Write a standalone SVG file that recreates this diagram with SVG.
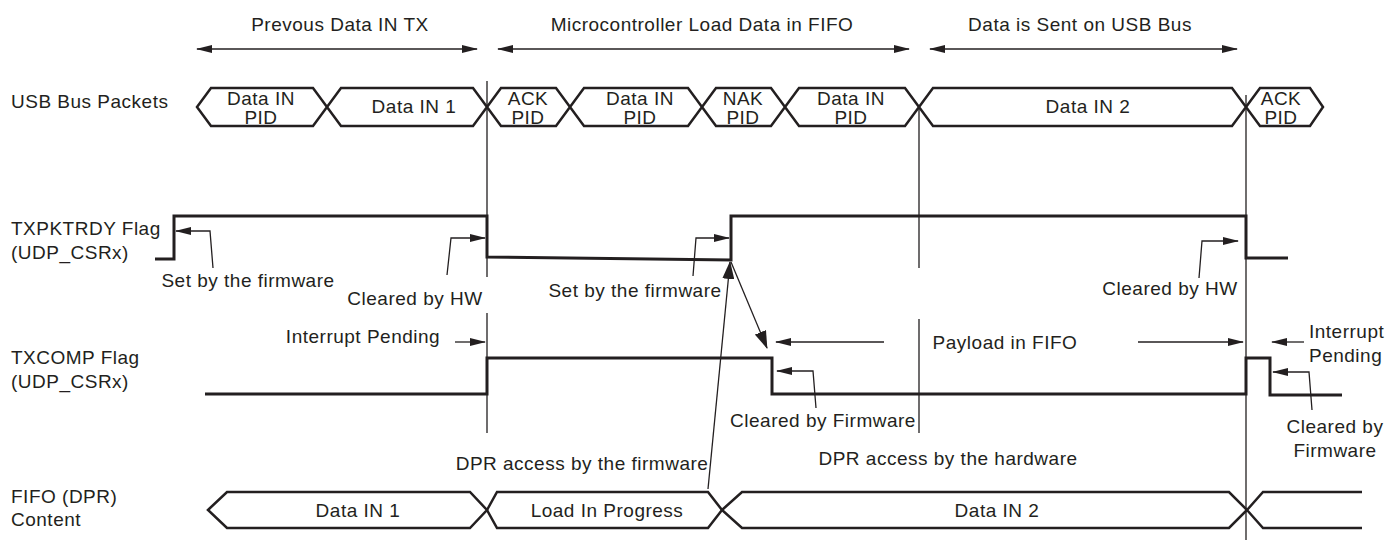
<svg xmlns="http://www.w3.org/2000/svg" width="1385" height="540" viewBox="0 0 1385 540">
<style>
.t{font-family:"Liberation Sans",Arial,Helvetica,sans-serif;font-size:19px;letter-spacing:0.5px;fill:#231f20}
.m{text-anchor:middle}
.w{fill:none;stroke:#231f20;stroke-width:3;stroke-linejoin:miter}
.pk{fill:none;stroke:#231f20;stroke-width:2.5;stroke-linejoin:miter}
.thin{fill:none;stroke:#231f20;stroke-width:1.3}
.ar{fill:none;stroke:#231f20;stroke-width:1.3;marker-end:url(#ah)}
.dbl{fill:none;stroke:#231f20;stroke-width:1.3;marker-start:url(#ah);marker-end:url(#ah)}
</style>
<defs>
<marker id="ah" markerUnits="userSpaceOnUse" markerWidth="16" markerHeight="10" refX="15" refY="5" orient="auto-start-reverse">
<path d="M0,1 L16,5 L0,9 z" fill="#231f20"/>
</marker>
<marker id="ahb" markerUnits="userSpaceOnUse" markerWidth="18" markerHeight="12" refX="17" refY="6" orient="auto">
<path d="M0,0 L18,6 L0,12 z" fill="#231f20"/>
</marker>
</defs>
<rect width="1385" height="540" fill="#ffffff"/>

<g id="phases">
<text class="t m" x="340" y="31">Prevous Data IN TX</text>
<text class="t m" x="702" y="31">Microcontroller Load Data in FIFO</text>
<text class="t m" x="1080" y="31">Data is Sent on USB Bus</text>
</g>

<g id="row-labels">
<text class="t" x="11" y="108">USB Bus Packets</text>
<text class="t" x="11" y="235">TXPKTRDY Flag</text>
<text class="t" x="11" y="259">(UDP_CSRx)</text>
<text class="t" x="11" y="364">TXCOMP Flag</text>
<text class="t" x="11" y="388">(UDP_CSRx)</text>
<text class="t" x="11" y="503">FIFO (DPR)</text>
<text class="t" x="11" y="526">Content</text>
</g>

<g id="markers">
<path class="thin" d="M487,81 V277 M487,313 V433"/>
<path class="thin" d="M919,108 V268 M919,319 V433"/>
<path class="thin" d="M1246,95 V540"/>
</g>

<g id="usb-packets">
<g id="pkt1"><path class="pk" d="M197,107 L211,88 L313,88 L327,107 L313,126 L211,126 Z"/>
<text class="t m" x="261" y="105">Data IN</text><text class="t m" x="261" y="124">PID</text></g>
<g id="pkt2"><path class="pk" d="M327,107 L341,88 L473,88 L487,107 L473,126 L341,126 Z"/>
<text class="t m" x="414" y="113">Data IN 1</text></g>
<g id="pkt3"><path class="pk" d="M487,107 L501,88 L556,88 L570,107 L556,126 L501,126 Z"/>
<text class="t m" x="528" y="105">ACK</text><text class="t m" x="528" y="124">PID</text></g>
<g id="pkt4"><path class="pk" d="M570,107 L584,88 L688,88 L702,107 L688,126 L584,126 Z"/>
<text class="t m" x="640" y="105">Data IN</text><text class="t m" x="640" y="124">PID</text></g>
<g id="pkt5"><path class="pk" d="M702,107 L716,88 L771,88 L785,107 L771,126 L716,126 Z"/>
<text class="t m" x="743" y="105">NAK</text><text class="t m" x="743" y="124">PID</text></g>
<g id="pkt6"><path class="pk" d="M785,107 L799,88 L905,88 L919,107 L905,126 L799,126 Z"/>
<text class="t m" x="851" y="105">Data IN</text><text class="t m" x="851" y="124">PID</text></g>
<g id="pkt7"><path class="pk" d="M919,107 L933,88 L1232,88 L1246,107 L1232,126 L933,126 Z"/>
<text class="t m" x="1088" y="113">Data IN 2</text></g>
<g id="pkt8"><path class="pk" d="M1246,107 L1260,88 L1310,88 L1323,107 L1310,126 L1260,126 Z"/>
<text class="t m" x="1281" y="105">ACK</text><text class="t m" x="1281" y="124">PID</text></g>
</g>

<g id="txpktrdy">
<path class="w" d="M155,259 H174 V216 H487 V257 L731,260 V216 H1246 V258 H1288"/>
</g>

<g id="txcomp">
<path class="w" d="M205,394 H487 V358 H772 V394 H1246 V358 H1270 V395 H1342"/>
</g>

<g id="fifo">
<g id="fifo1"><path class="pk" d="M208,510 L227,492 L470,492 L487,510 L470,528 L227,528 Z"/>
<text class="t m" x="358" y="517">Data IN 1</text></g>
<g id="fifo2"><path class="pk" d="M487,510 L497,492 L708,492 L722,510 L708,528 L497,528 Z"/>
<text class="t m" x="607" y="517">Load In Progress</text></g>
<g id="fifo3"><path class="pk" d="M722,510 L742,492 L1229,492 L1247,510 L1229,528 L742,528 Z"/>
<text class="t m" x="997" y="517">Data IN 2</text></g>
<g id="fifo4"><path class="pk" d="M1247,510 L1263,492 H1362 M1247,510 L1263,528 H1362"/></g>
</g>

<g id="annotations">
<text class="t m" x="248" y="287">Set by the firmware</text>
<text class="t m" x="415" y="305">Cleared by HW</text>
<text class="t m" x="635" y="297">Set by the firmware</text>
<text class="t m" x="1170" y="295">Cleared by HW</text>
<text class="t m" x="363" y="343">Interrupt Pending</text>
<text class="t m" x="1005" y="349">Payload in FIFO</text>
<text class="t" x="1309" y="338">Interrupt</text>
<text class="t" x="1309" y="362">Pending</text>
<text class="t m" x="823" y="427">Cleared by Firmware</text>
<text class="t m" x="1335" y="433">Cleared by</text>
<text class="t m" x="1335" y="457">Firmware</text>
<text class="t m" x="582" y="470">DPR access by the firmware</text>
<text class="t m" x="948" y="465">DPR access by the hardware</text>
</g>

<g id="connectors">
<line class="dbl" x1="197" y1="49" x2="477" y2="49"/>
<line class="dbl" x1="498" y1="49" x2="909" y2="49"/>
<line class="dbl" x1="930" y1="49" x2="1237" y2="49"/>
<polyline class="ar" points="213,268 210,231 176,231"/>
<polyline class="ar" points="447,275 451,238 485,238"/>
<polyline class="ar" points="693,276 696,238 729,238"/>
<polyline class="ar" points="1199,278 1202,241 1238,241"/>
<line class="ar" x1="455" y1="342" x2="485" y2="342"/>
<line class="ar" x1="884" y1="342" x2="776" y2="342"/>
<line class="ar" x1="1138" y1="342" x2="1243" y2="342"/>
<line class="ar" x1="1304" y1="342" x2="1272" y2="342"/>
<polyline class="ar" points="816,408 813,371 777,371"/>
<polyline class="ar" points="1312,410 1309,372 1273,372"/>
<line class="thin" x1="708" y1="489" x2="730" y2="262" marker-end="url(#ahb)"/>
<line class="thin" x1="731" y1="262" x2="767" y2="348" marker-end="url(#ahb)"/>
</g>
</svg>
